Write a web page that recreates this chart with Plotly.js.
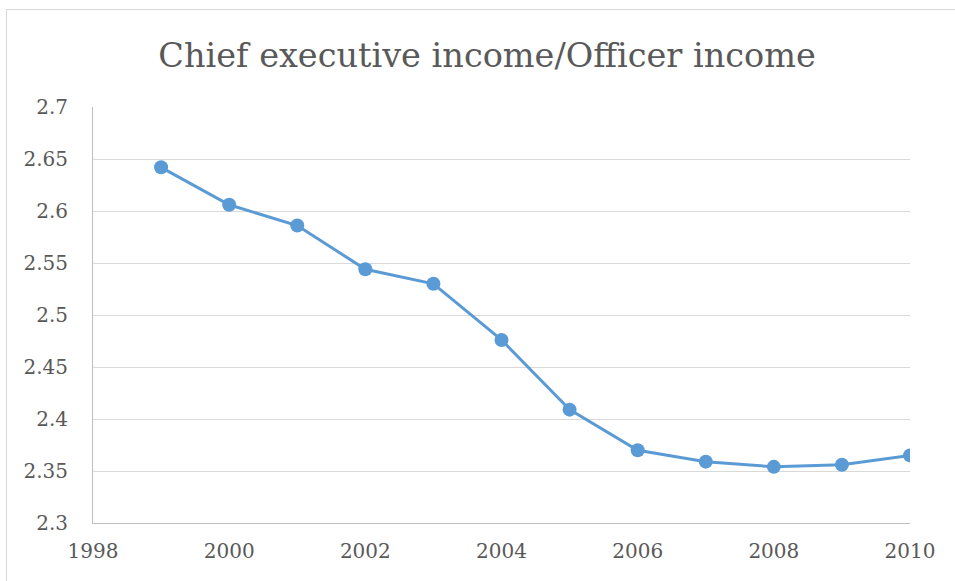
<!DOCTYPE html>
<html>
<head>
<meta charset="utf-8">
<script src="https://cdn.plot.ly/plotly-3.0.1.min.js"></script>
<style>
html,body{margin:0;padding:0;background:#fff;}
#wrap{position:relative;width:955px;height:581px;overflow:hidden;}
#chart{width:955px;height:581px;}
#frame{position:absolute;left:6px;top:9px;width:1000px;height:700px;border-left:1px solid #d9d9d9;border-top:1px solid #d9d9d9;pointer-events:none;}
</style>
</head>
<body>
<div id="wrap"><div id="chart"></div><div id="frame"></div></div>
<script>
const years = [1999, 2000, 2001, 2002, 2003, 2004, 2005, 2006, 2007, 2008, 2009, 2010];
const ratio = [2.642, 2.606, 2.586, 2.544, 2.530, 2.476, 2.409, 2.370, 2.359, 2.354, 2.356, 2.365];
const chartTitle = "Chief executive income/Officer income";

const font = "'DejaVu Serif', 'Liberation Serif', serif";
Plotly.newPlot("chart", [{
  x: years, y: ratio, type: "scatter", mode: "lines+markers",
  line: {color: "#5b9bd5", width: 3},
  marker: {color: "#5b9bd5", size: 14},
  hoverinfo: "x+y"
}], {
  width: 955, height: 581,
  margin: {l: 93, r: 45, t: 107, b: 58},
  paper_bgcolor: "#fff", plot_bgcolor: "#fff",
  showlegend: false,
  title: {text: chartTitle, x: 0.51, xanchor: "center", y: 0.905, yanchor: "middle",
          font: {family: font, size: 33.5, color: "#595959"}},
  xaxis: {range: [1998, 2010], tickvals: [1998, 2000, 2002, 2004, 2006, 2008, 2010],
          showgrid: false, zeroline: false, showline: true, linecolor: "#bfbfbf", linewidth: 1,
          ticks: "", ticklabelstandoff: 10, tickfont: {family: font, size: 20, color: "#595959"}},
  yaxis: {range: [2.3, 2.7], tickvals: [2.3, 2.35, 2.4, 2.45, 2.5, 2.55, 2.6, 2.65, 2.7],
          ticktext: ["2.3","2.35","2.4","2.45","2.5","2.55","2.6","2.65","2.7"],
          showgrid: true, gridcolor: "#d9d9d9", gridwidth: 1, zeroline: false,
          showline: true, linecolor: "#bfbfbf", linewidth: 1, ticks: "", ticklabelstandoff: 20,
          tickfont: {family: font, size: 20, color: "#595959"}}
}, {displayModeBar: false, staticPlot: true});
</script>
</body>
</html>
